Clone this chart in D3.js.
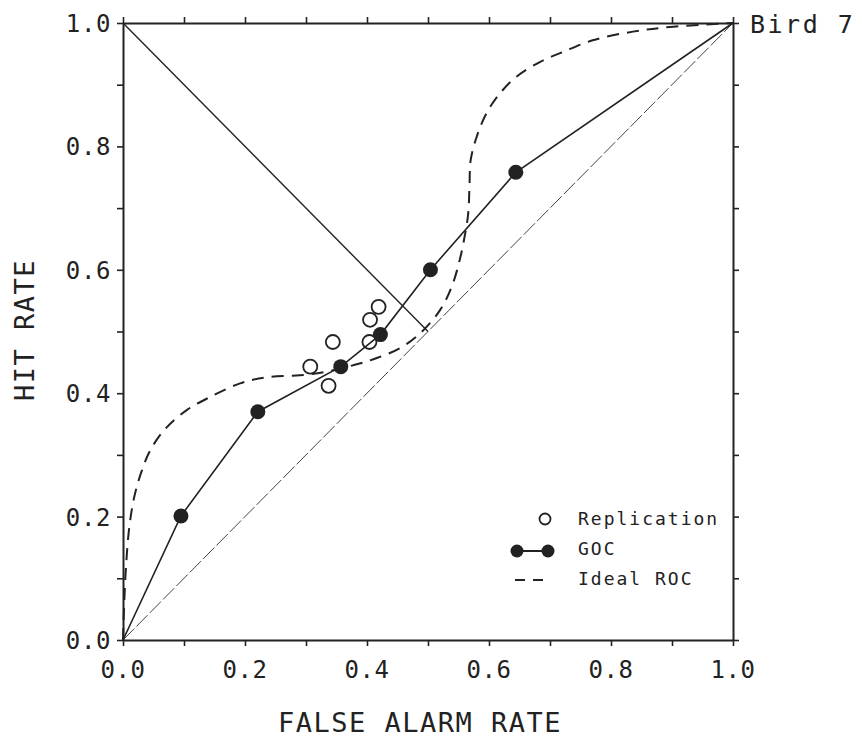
<!DOCTYPE html>
<html>
<head>
<meta charset="utf-8">
<script src="https://cdn.jsdelivr.net/npm/d3@7"></script>
<style>
  body { margin: 0; background: #fff; }
  svg text { font-family: "DejaVu Sans Mono", monospace; fill: #222; }
</style>
</head>
<body>
<svg id="chart" width="862" height="741"></svg>
<script>
// tick values and labels
const majorTicks = [0, 0.2, 0.4, 0.6, 0.8, 1.0];
const tickLabels = ["0.0", "0.2", "0.4", "0.6", "0.8", "1.0"];
const minorTicks = [0, 0.1, 0.2, 0.3, 0.4, 0.5, 0.6, 0.7, 0.8, 0.9, 1.0];

// GOC (filled points, joined)
const gocFA  = [0, 0.095, 0.221, 0.357, 0.422, 0.504, 0.644, 1];
const gocHit = [0, 0.201, 0.370, 0.443, 0.495, 0.600, 0.758, 1];

// Replication (open circles)
const repFA  = [0.307, 0.337, 0.344, 0.404, 0.405, 0.419];
const repHit = [0.443, 0.412, 0.483, 0.483, 0.519, 0.540];

// Ideal ROC (dashed)
const rocFA  = [0, 0.002, 0.005, 0.010, 0.018, 0.030, 0.045, 0.070, 0.105, 0.143, 0.192, 0.236, 0.290, 0.334, 0.380, 0.416, 0.454, 0.487, 0.520, 0.539, 0.552, 0.561, 0.566, 0.568, 0.570, 0.580, 0.596, 0.618, 0.645, 0.684, 0.721, 0.770, 0.836, 0.902, 1];
const rocHit = [0, 0.060, 0.120, 0.180, 0.230, 0.272, 0.308, 0.343, 0.373, 0.394, 0.416, 0.426, 0.429, 0.435, 0.446, 0.457, 0.473, 0.497, 0.535, 0.573, 0.616, 0.659, 0.692, 0.735, 0.778, 0.816, 0.854, 0.886, 0.913, 0.937, 0.953, 0.972, 0.986, 0.994, 1];

// chance line and negative diagonal
const chanceFA = [0, 1], chanceHit = [0, 1];
const negFA = [0, 0.5], negHit = [1, 0.5];

const svg = d3.select("#chart");
const x = d3.scaleLinear().domain([0, 1]).range([123, 733]);
const y = d3.scaleLinear().domain([0, 1]).range([640, 23]);

const zip = (a, b) => a.map((v, i) => [v, b[i]]);
const line = d3.line().x(d => x(d[0])).y(d => y(d[1]));

// axes (ticks outward on all four sides)
function drawAxis(axis, transform) {
  const g = svg.append("g").attr("transform", transform).call(axis);
  g.select(".domain").attr("stroke", "#222").attr("stroke-width", 2);
  g.selectAll(".tick line").attr("stroke", "#222").attr("stroke-width", 1.6);
  return g;
}
drawAxis(d3.axisTop(x).tickValues(minorTicks).tickSize(6).tickSizeOuter(0).tickFormat(""), `translate(0,${y(1)})`);
drawAxis(d3.axisRight(y).tickValues(minorTicks).tickSize(6).tickSizeOuter(0).tickFormat(""), `translate(${x(1)},0)`);
drawAxis(d3.axisBottom(x).tickValues(minorTicks).tickSize(6).tickSizeOuter(0).tickFormat(""), `translate(0,${y(0)})`);
drawAxis(d3.axisLeft(y).tickValues(minorTicks).tickSize(6).tickSizeOuter(0).tickFormat(""), `translate(${x(0)},0)`);

// tick labels
svg.append("g").selectAll("text")
  .data(majorTicks)
  .enter()
  .append("text")
  .attr("x", d => x(d))
  .attr("y", y(0) + 38)
  .attr("text-anchor", "middle")
  .style("font-size", "24px")
  .style("letter-spacing", "0.6px")
  .text((d, i) => tickLabels[i]);

svg.append("g").selectAll("text")
  .data(majorTicks)
  .enter()
  .append("text")
  .attr("x", x(0) - 12)
  .attr("y", d => y(d) + 9)
  .attr("text-anchor", "end")
  .style("font-size", "24px")
  .style("letter-spacing", "0.6px")
  .text((d, i) => tickLabels[i]);

// axis titles
svg.append("text")
  .attr("x", 420)
  .attr("y", 732)
  .attr("text-anchor", "middle")
  .style("font-size", "27px")
  .style("letter-spacing", "1.5px")
  .text("FALSE ALARM RATE");

svg.append("text")
  .attr("transform", "translate(34,330) rotate(-90)")
  .attr("text-anchor", "middle")
  .style("font-size", "27px")
  .style("letter-spacing", "1.5px")
  .text("HIT RATE");

svg.append("text")
  .attr("x", 750)
  .attr("y", 33)
  .style("font-size", "25px")
  .style("letter-spacing", "2.5px")
  .text("Bird 7");

// reference lines
svg.append("path")
  .attr("d", line(zip(chanceFA, chanceHit)))
  .attr("fill", "none")
  .attr("stroke", "#444")
  .attr("stroke-width", 1)
  .attr("stroke-dasharray", "16,3");

svg.append("path")
  .attr("d", line(zip(negFA, negHit)))
  .attr("fill", "none")
  .attr("stroke", "#222")
  .attr("stroke-width", 1.4);

// ideal ROC
svg.append("path")
  .attr("d", line.curve(d3.curveCatmullRom.alpha(0.5))(zip(rocFA, rocHit)))
  .attr("fill", "none")
  .attr("stroke", "#222")
  .attr("stroke-width", 2)
  .attr("stroke-dasharray", "12,8");
line.curve(d3.curveLinear);

// GOC
svg.append("path")
  .attr("d", line(zip(gocFA, gocHit)))
  .attr("fill", "none")
  .attr("stroke", "#222")
  .attr("stroke-width", 1.6);

svg.append("g").selectAll("circle")
  .data(zip(gocFA, gocHit).slice(1, -1))
  .enter()
  .append("circle")
  .attr("cx", d => x(d[0]))
  .attr("cy", d => y(d[1]))
  .attr("r", 7.5)
  .attr("fill", "#222");

// replication
svg.append("g").selectAll("circle")
  .data(zip(repFA, repHit))
  .enter()
  .append("circle")
  .attr("cx", d => x(d[0]))
  .attr("cy", d => y(d[1]))
  .attr("r", 7)
  .attr("fill", "none")
  .attr("stroke", "#222")
  .attr("stroke-width", 1.8);

// legend
const lg = svg.append("g");
lg.append("circle").attr("cx", 545).attr("cy", 519).attr("r", 5.5)
  .attr("fill", "none").attr("stroke", "#222").attr("stroke-width", 1.8);
lg.append("line").attr("x1", 517).attr("x2", 548).attr("y1", 551).attr("y2", 551)
  .attr("stroke", "#222").attr("stroke-width", 2);
lg.selectAll(".ld").data([517, 548]).enter().append("circle")
  .attr("cx", d => d).attr("cy", 551).attr("r", 6.5).attr("fill", "#222");
lg.append("line").attr("x1", 515).attr("x2", 543).attr("y1", 580).attr("y2", 580)
  .attr("stroke", "#222").attr("stroke-width", 2).attr("stroke-dasharray", "10,8");
const legendText = ["Replication", "GOC", "Ideal ROC"];
lg.selectAll("text").data(legendText).enter().append("text")
  .attr("x", 578)
  .attr("y", (d, i) => 525 + i * 30)
  .style("font-size", "18px")
  .style("letter-spacing", "2px")
  .text(d => d);
</script>
</body>
</html>
